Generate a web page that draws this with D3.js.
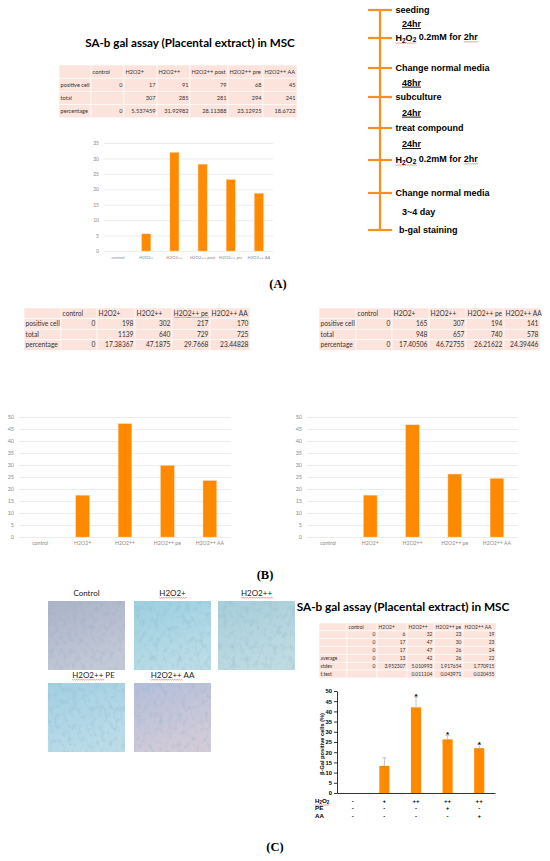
<!DOCTYPE html>
<html>
<head>
<meta charset="utf-8">
<script src="https://cdn.jsdelivr.net/npm/d3@7"></script>
<style>
  body { margin: 0; background: #fff; }
  svg { display: block; }
</style>
</head>
<body>
<svg id="fig" width="550" height="861"></svg>
<script>
// ---------- data ----------
const catsA = ['control', 'H2O2+', 'H2O2++', 'H2O2++ post', 'H2O2++ pre', 'H2O2++ AA'];
const posA = [0, 17, 91, 79, 68, 45];
const totA = [null, 307, 285, 281, 294, 241];
const pctA = [0, 5.537459, 31.92982, 28.11388, 23.12925, 18.6722];

const catsB = ['control', 'H2O2+', 'H2O2++', 'H2O2++ pe', 'H2O2++ AA'];
const posB1 = [0, 198, 302, 217, 170];
const totB1 = [null, 1139, 640, 729, 725];
const pctB1 = [0, 17.38367, 47.1875, 29.7668, 23.44828];
const posB2 = [0, 165, 307, 194, 141];
const totB2 = [null, 948, 657, 740, 578];
const pctB2 = [0, 17.40506, 46.72755, 26.21622, 24.39446];

const rep1C = [0, 6, 32, 23, 19];
const rep2C = [0, 17, 47, 30, 23];
const rep3C = [0, 17, 47, 26, 24];
const avgC = [0, 13, 42, 26, 22];
const sdC = [0, 3.952307, 5.010993, 1.917654, 1.770915];
const tC = [null, null, 0.011104, 0.043971, 0.020455];
const barC = [0, 13.3, 42, 26.3, 22];
const h2o2C = ['-', '+', '++', '++', '++'];
const peC = ['-', '-', '-', '+', '-'];
const aaC = ['-', '-', '-', '-', '+'];

const steps = ['seeding', 'H2O2 0.2mM for 2hr', 'Change normal media', 'subculture',
               'treat compound', 'H2O2 0.2mM for 2hr', 'Change normal media', 'b-gal staining'];
const gaps = ['24hr', '', '48hr', '24hr', '24hr', '', '3~4 day'];

const photoLabels = ['Control', 'H2O2+', 'H2O2++', 'H2O2++ PE', 'H2O2++ AA'];

// ---------- look ----------
const orange = '#ff8a00',
      lineOrange = '#f7901e',
      pink = '#fce4dc',
      gridGrey = '#e4e4e4',
      labelGrey = '#8a8a8a',
      calibri = 'Lato, "Open Sans", sans-serif',
      arial = '"Liberation Sans", Arial, sans-serif',
      times = '"Liberation Serif", "Times New Roman", serif';

const svg = d3.select('#fig');
svg.append('rect').attr('width', 550).attr('height', 861).attr('fill', '#fff');

function fitText(sel, w) {
  const fs = parseFloat(sel.attr('font-size'));
  sel.attr('font-size', fs * w / sel.node().getComputedTextLength());
}

function squiggle(sel, start, len) {
  const n = sel.node(),
        p = n.getStartPositionOfChar(start),
        w = n.getSubStringLength(start, len),
        y = p.y + 1.6;
  let d = `M${p.x},${y}`;
  for (let x = p.x, k = 0; x < p.x + w; x += 1.1, k++) d += `L${x + 1.1},${y + (k % 2 ? 0 : 0.7)}`;
  d3.select(n.parentNode).append('path').attr('d', d)
    .attr('fill', 'none').attr('stroke', '#e23b3b').attr('stroke-width', 0.5);
}

// writes "H2O2..." with subscripts
function chem(sel, str) {
  if (!str.startsWith('H2O2')) { sel.text(str); return sel; }
  sel.append('tspan').text('H');
  sel.append('tspan').text('2').attr('font-size', '0.72em').attr('dy', '0.25em');
  sel.append('tspan').text('O').attr('dy', '-0.25em');
  sel.append('tspan').text('2').attr('font-size', '0.72em').attr('dy', '0.25em');
  sel.append('tspan').text(str.slice(4)).attr('dy', '-0.25em');
  return sel;
}

function table(x0, y0, rowH, edges, header, rows, fs) {
  const g = svg.append('g').attr('font-family', calibri).attr('font-size', fs).attr('fill', '#333');
  const nCols = edges.length - 1;
  for (let r = 0; r <= rows.length; r++) {
    for (let c = 0; c < nCols; c++) {
      g.append('rect')
        .attr('x', edges[c]).attr('y', y0 + r * rowH)
        .attr('width', edges[c + 1] - edges[c]).attr('height', rowH)
        .attr('fill', pink).attr('stroke', '#fff').attr('stroke-width', 0.6);
    }
  }
  const heads = header.map((h, i) =>
    g.append('text').text(h)
      .attr('x', edges[i + 1] + 1.6).attr('y', y0 + rowH / 2).attr('dy', '0.35em'));
  rows.forEach(([label, vals], r) => {
    const cy = y0 + (r + 1.5) * rowH;
    g.append('text').text(label).attr('x', edges[0] + 1.6).attr('y', cy).attr('dy', '0.35em');
    vals.forEach((v, i) => {
      if (v === null) return;
      g.append('text').text(String(v))
        .attr('x', edges[i + 2] - 1.6).attr('y', cy).attr('dy', '0.35em')
        .attr('text-anchor', 'end');
    });
  });
  return heads;
}

function excelChart(cats, vals, x0, x1, yTop, yBase, max, fs, catFs) {
  const x = d3.scaleBand().domain(cats).range([x0, x1]).paddingInner(0.68).paddingOuter(0.34),
        y = d3.scaleLinear().domain([0, max]).range([yBase, yTop]),
        g = svg.append('g');

  g.append('g')
    .attr('transform', `translate(${x0},0)`)
    .call(d3.axisLeft(y).tickValues(d3.range(0, max + 1, 5)).tickSize(-(x1 - x0)).tickPadding(5))
    .call((a) => a.select('.domain').remove())
    .call((a) => a.selectAll('line').attr('stroke', gridGrey).attr('stroke-width', 0.7))
    .call((a) => a.selectAll('text').attr('fill', labelGrey).attr('font-size', fs)
                  .attr('font-family', calibri));

  g.selectAll('rect.bar')
    .data(cats.map((c, i) => ({ c, v: vals[i] })))
    .enter()
    .append('rect')
      .attr('class', 'bar')
      .attr('x', (d) => x(d.c))
      .attr('y', (d) => y(d.v))
      .attr('width', x.bandwidth())
      .attr('height', (d) => yBase - y(d.v))
      .attr('fill', orange)
      .attr('stroke', '#ffc98a')
      .attr('stroke-width', 0.4);

  g.selectAll('text.cat')
    .data(cats)
    .enter()
    .append('text')
      .attr('class', 'cat')
      .text((d) => d)
      .attr('x', (d) => x(d) + x.bandwidth() / 2)
      .attr('y', yBase + 8)
      .attr('text-anchor', 'middle')
      .attr('font-size', catFs)
      .attr('font-family', calibri)
      .attr('fill', labelGrey);
}

function panelLabel(txt, x, y) {
  svg.append('text').text(txt)
    .attr('x', x).attr('y', y).attr('text-anchor', 'middle')
    .attr('font-family', times).attr('font-weight', 'bold').attr('font-size', 12.5);
}

function title(x, y, w) {
  const t = svg.append('text').text('SA-b gal assay (Placental extract) in MSC')
    .attr('x', x).attr('y', y).attr('text-anchor', 'middle')
    .attr('font-family', calibri).attr('font-weight', 'bold').attr('font-size', 12);
  fitText(t, w);
}

// ---------- panel A ----------
title(190, 47, 210);
table(59, 65, 13.2, [59, 91, 124, 157, 190, 228, 263, 297], catsA,
      [['positive cell', posA], ['total', totA], ['percentage', pctA]], 5.6);
excelChart(catsA, pctA, 104, 273, 143, 251, 35, 5.0, 4.2);
panelLabel('(A)', 278, 288);

// timeline
const tlY = [10, 38, 68, 97, 128, 160, 193, 230];
const tl = svg.append('g').attr('font-family', arial).attr('font-weight', 'bold').attr('font-size', 9);
tl.append('line').attr('x1', 380).attr('x2', 380).attr('y1', tlY[0]).attr('y2', tlY[7])
  .attr('stroke', lineOrange).attr('stroke-width', 2.2);
tl.selectAll('line.tick')
  .data(tlY)
  .enter()
  .append('line')
    .attr('class', 'tick')
    .attr('x1', 368).attr('x2', 392)
    .attr('y1', (d) => d).attr('y2', (d) => d)
    .attr('stroke', lineOrange).attr('stroke-width', 2.2);
steps.forEach((s, i) => {
  const t = tl.append('text')
    .attr('x', i === 7 ? 399 : 395.5).attr('y', tlY[i]).attr('dy', '0.35em');
  chem(t, s);
  if (s.startsWith('H2O2')) { squiggle(t, 0, 4); squiggle(t, 15, 3); }
});
gaps.forEach((s, i) => {
  if (!s) return;
  tl.append('text').text(s)
    .attr('x', 402).attr('y', (tlY[i] + tlY[i + 1]) / 2).attr('dy', '0.35em')
    .style('text-decoration', s.endsWith('hr') ? 'underline' : 'none');
});

// ---------- panel B ----------
const headsB1 = table(24, 308, 10.6, [24, 61, 97, 135, 172, 210, 250], catsB,
      [['positive cell', posB1], ['total', totB1], ['percentage', pctB1]], 6.6);
squiggle(headsB1[3], 0, 9);
table(319, 308, 10.6, [319, 356, 392, 429, 466, 504, 540], catsB,
      [['positive cell', posB2], ['total', totB2], ['percentage', pctB2]], 6.6);
excelChart(catsB, pctB1, 19, 231, 417, 537, 50, 5.4, 5.2);
excelChart(catsB, pctB2, 307, 518, 417, 537, 50, 5.4, 5.2);
panelLabel('(B)', 265, 579);

// ---------- panel C ----------
const defs = svg.append('defs');
const tileColors = [['#aab3c8', '#c2c8d6'], ['#9ccfe1', '#b9dce7'], ['#a5cedb', '#bfdbe2'],
                    ['#a2cfe2', '#badce9'], ['#b2bedb', '#d2cbd8']];
tileColors.forEach(([a, b], i) => {
  const lg = defs.append('linearGradient').attr('id', 'tile' + i)
    .attr('x1', 0).attr('y1', 0).attr('x2', 0.4).attr('y2', 1);
  lg.append('stop').attr('offset', '0%').attr('stop-color', a);
  lg.append('stop').attr('offset', '100%').attr('stop-color', b);
});
const noise = defs.append('filter').attr('id', 'noise')
  .attr('x', 0).attr('y', 0).attr('width', '100%').attr('height', '100%');
noise.append('feTurbulence').attr('type', 'fractalNoise')
  .attr('baseFrequency', '0.22 0.16').attr('numOctaves', 3).attr('seed', 7);
noise.append('feColorMatrix').attr('type', 'matrix')
  .attr('values', '0 0 0 0 0.25  0 0 0 0 0.4  0 0 0 0 0.5  2.2 0 0 0 -1.05');

const tileX = [48, 134, 218, 48, 134],
      tileY = [601, 601, 601, 683, 683];
photoLabels.forEach((lab, i) => {
  svg.append('rect')
    .attr('x', tileX[i]).attr('y', tileY[i]).attr('width', 77).attr('height', 69)
    .attr('fill', `url(#tile${i})`);
  svg.append('rect')
    .attr('x', tileX[i]).attr('y', tileY[i]).attr('width', 77).attr('height', 69)
    .attr('filter', 'url(#noise)').attr('opacity', 0.35);
  const t = svg.append('text').text(lab)
    .attr('x', tileX[i] + 38.5 + (i === 3 ? 7 : 0)).attr('y', tileY[i] - 8).attr('dy', '0.35em')
    .attr('text-anchor', 'middle').attr('font-family', calibri).attr('font-size', 8)
    .attr('fill', '#222');
  if (lab.startsWith('H2O2')) squiggle(t, 0, lab.indexOf(' ') > 0 ? lab.indexOf(' ') : lab.length);
});

title(403, 611, 213);
table(319, 623, 7.85, [319, 347, 377, 407, 434, 463, 496], catsB,
      [['', rep1C], ['', rep2C], ['', rep3C], ['average', avgC], ['stdev', sdC], ['t.test', tC]], 4.9);

// C bar chart
const xC = d3.scaleBand().domain(catsB).range([337, 495]).paddingInner(0.68).paddingOuter(0.34),
      yC = d3.scaleLinear().domain([0, 50]).range([793, 691]),
      gC = svg.append('g').attr('font-family', arial).attr('font-weight', 'bold');

gC.append('g')
  .attr('transform', 'translate(337,0)')
  .call(d3.axisLeft(yC).tickValues(d3.range(0, 51, 5)).tickSize(3).tickPadding(2).tickSizeOuter(0))
  .call((a) => a.selectAll('text').attr('font-size', 5.8).attr('font-family', arial)
                .attr('font-weight', 'bold').attr('fill', '#000'))
  .call((a) => a.selectAll('line, path').attr('stroke', '#000').attr('stroke-width', 0.8));
gC.append('g')
  .attr('transform', 'translate(0,793)')
  .call(d3.axisBottom(xC).tickSize(0).tickSizeOuter(0).tickFormat(''))
  .call((a) => a.select('.domain').attr('stroke', '#000').attr('stroke-width', 0.8));

const dC = catsB.map((c, i) => ({ c, v: barC[i], sd: sdC[i], sig: tC[i] !== null && tC[i] < 0.05 }));
gC.selectAll('rect.bar')
  .data(dC)
  .enter()
  .append('rect')
    .attr('x', (d) => xC(d.c))
    .attr('y', (d) => yC(d.v))
    .attr('width', xC.bandwidth())
    .attr('height', (d) => 793 - yC(d.v))
    .attr('fill', orange);
const err = dC.filter((d) => d.v > 0);
gC.selectAll('line.err')
  .data(err)
  .enter()
  .append('line')
    .attr('x1', (d) => xC(d.c) + xC.bandwidth() / 2)
    .attr('x2', (d) => xC(d.c) + xC.bandwidth() / 2)
    .attr('y1', (d) => yC(d.v))
    .attr('y2', (d) => yC(d.v + d.sd))
    .attr('stroke', '#b5b5b5').attr('stroke-width', 0.8);
gC.selectAll('line.cap')
  .data(err)
  .enter()
  .append('line')
    .attr('x1', (d) => xC(d.c) + xC.bandwidth() / 2 - 2)
    .attr('x2', (d) => xC(d.c) + xC.bandwidth() / 2 + 2)
    .attr('y1', (d) => yC(d.v + d.sd))
    .attr('y2', (d) => yC(d.v + d.sd))
    .attr('stroke', '#b5b5b5').attr('stroke-width', 0.8);
gC.selectAll('text.star')
  .data(dC.filter((d) => d.sig))
  .enter()
  .append('text')
    .text('*')
    .attr('x', (d) => xC(d.c) + xC.bandwidth() / 2)
    .attr('y', (d) => yC(d.v + d.sd) + 2)
    .attr('text-anchor', 'middle')
    .attr('font-size', 8);

const yLab = gC.append('text').text('β-Gal positive cells (%)')
  .attr('transform', 'translate(324,744) rotate(-90)')
  .attr('text-anchor', 'middle').attr('font-size', 6);
fitText(yLab, 62);

[['H2O2', h2o2C], ['PE', peC], ['AA', aaC]].forEach(([lab, vals], r) => {
  const cy = 801 + r * 7.2;
  const t = gC.append('text').attr('x', 315).attr('y', cy).attr('dy', '0.35em').attr('font-size', 6.2);
  chem(t, lab);
  if (r === 0) squiggle(t, 0, 4);
  gC.selectAll(null)
    .data(vals)
    .enter()
    .append('text')
      .text((d) => d)
      .attr('x', (d, i) => xC(catsB[i]) + xC.bandwidth() / 2)
      .attr('y', cy)
      .attr('dy', '0.35em')
      .attr('text-anchor', 'middle')
      .attr('font-size', 6.2);
});

panelLabel('(C)', 275, 851);
</script>
</body>
</html>
